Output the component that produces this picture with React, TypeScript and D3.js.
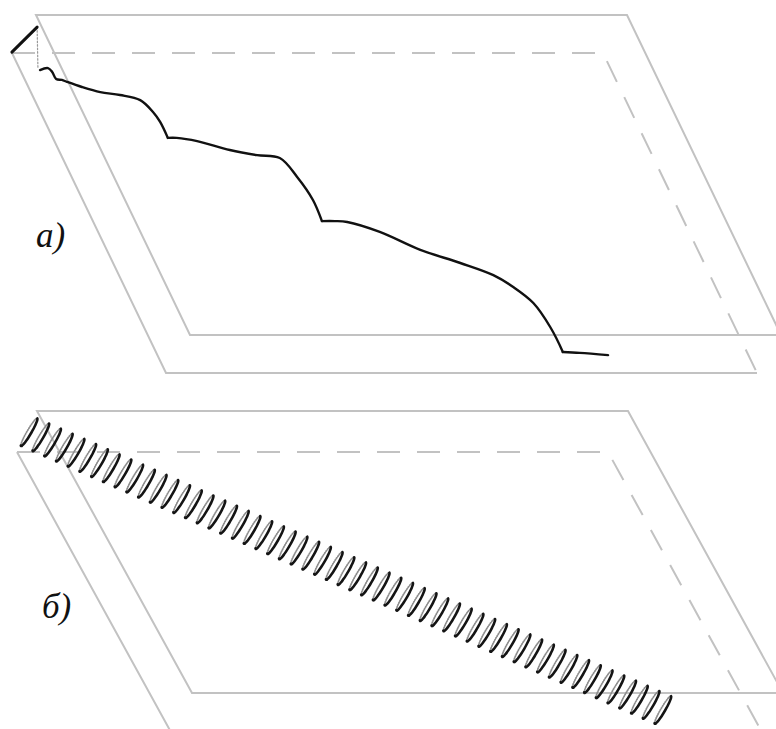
import React from 'react';
import * as d3 from 'd3';

const W = 776;
const H = 729;

// both planes are the unit square u,w in [0,10]; level z=1 is the upper plane, z=0 the lower one
const planeSide = [0, 10];

const curveAU = [-0.38, -0.23, -0.19, -0.18, -0.09, -0.02, 0.19, 0.46, 0.77, 1.07, 1.19, 1.23, 1.23,
  1.38, 1.7, 2.18, 2.6, 2.96, 3.1, 3.18, 3.16, 3.38, 3.58, 4.05, 4.59, 5.16, 5.62, 5.86, 6.07, 6.16, 6.17, 6.45, 6.91];
const curveAW = [1.72, 1.66, 1.78, 2.0, 2.03, 2.09, 2.25, 2.41, 2.5, 2.66, 3.03, 3.34, 3.84,
  3.84, 3.94, 4.22, 4.38, 4.47, 5.06, 5.78, 6.44, 6.44, 6.47, 6.78, 7.34, 7.75, 8.13, 8.5, 9.0, 9.75, 10.53, 10.56, 10.63];
const curveACorners = [12, 20, 30]; // sharp kinks at the foot of each step

// the short thick lead-in and the faint drop below it
const leadU = [-0.71, -0.08];
const leadW = [1.16, 0.38];
const dropU = [-0.08, -0.4];
const dropW = [0.38, 1.66];

// panel b: coil laid along a line on the upper plane
const helixTurns = 54;
const helixU = [-0.33, 7.81];
const helixW = [0.75, 10.6];
const helixRadius = 0.35; // in plane-separation units

const labels = ['а)', 'б)'];

type Panel = { x0: number; y0: number; depth: number; shift: number; zdx: number; zdy: number };

const panelA: Panel = { x0: 36, y0: 15, depth: 320, shift: 154, zdx: -24, zdy: 38 };
const panelB: Panel = { x0: 37, y0: 411, depth: 282, shift: 155, zdx: -20, zdy: 41 };

function makeProjection(p: Panel) {
  const xU = d3.scaleLinear().domain(planeSide).range([p.x0, p.x0 + 591]);
  const xW = d3.scaleLinear().domain(planeSide).range([0, p.shift]);
  const yW = d3.scaleLinear().domain(planeSide).range([p.y0, p.y0 + p.depth]);
  const xZ = d3.scaleLinear().domain([0, 1]).range([p.zdx, 0]);
  const yZ = d3.scaleLinear().domain([0, 1]).range([p.zdy, 0]);
  return (u: number, w: number, z = 1): [number, number] => [xU(u) + xW(w) + xZ(z), yW(w) + yZ(z)];
}

const GRAY = '#c2c2c2';

const Planes: React.FC<{ proj: ReturnType<typeof makeProjection> }> = ({ proj }) => {
  const line = d3.line();
  const [a, b] = planeSide;
  const upper = line([proj(a, a), proj(b, a), proj(b, b), proj(a, b)]) + 'Z';
  const lowerSolid = line([proj(b, b, 0), proj(a, b, 0), proj(a, a, 0)]);
  const lowerDashed = line([proj(a, a, 0), proj(b, a, 0), proj(b, b, 0)]);
  return (
    <g fill="none" stroke={GRAY} strokeWidth={2}>
      <path d={lowerSolid!} />
      <path d={lowerDashed!} strokeDasharray="23 17" />
      <path d={upper} />
    </g>
  );
};

const CurveA: React.FC = () => {
  const proj = makeProjection(panelA);
  const pts = curveAU.map((u, i) => proj(u, curveAW[i]));
  const smooth = d3.line().curve(d3.curveCatmullRom.alpha(0.5));
  const cuts = [0, ...curveACorners, pts.length - 1];
  const pieces = cuts.slice(1).map((end, i) => smooth(pts.slice(cuts[i], end + 1)));
  const straight = d3.line();
  return (
    <g fill="none" strokeLinecap="round" strokeLinejoin="round">
      <path d={straight(dropU.map((u, i) => proj(u, dropW[i])))!} stroke="#999" strokeWidth={1.2} strokeDasharray="1.5 2" />
      <path d={straight(leadU.map((u, i) => proj(u, leadW[i])))!} stroke="#111" strokeWidth={3} />
      {pieces.map((d, i) => (
        <path key={i} d={d!} stroke="#111" strokeWidth={2.4} />
      ))}
    </g>
  );
};

const HelixB: React.FC = () => {
  const proj = makeProjection(panelB);
  const a0 = proj(helixU[0], helixW[0]);
  const a1 = proj(helixU[1], helixW[1]);
  const ax = a1[0] - a0[0];
  const ay = a1[1] - a0[1];
  const len = Math.hypot(ax, ay);
  const ux = ax / len;
  const uy = ay / len;
  const zTop = proj(0, 0, 1);
  const zBot = proj(0, 0, 0);
  // long half-axis of each turn: plane-normal direction, leaning slightly forward
  const r1 = [(zTop[0] - zBot[0]) * helixRadius + ux * 1.2, (zTop[1] - zBot[1]) * helixRadius + uy * 1.2];
  const r1len = Math.hypot(r1[0], r1[1]);
  const thin = 2.2;
  const r2 = [(-r1[1] / r1len) * thin, (r1[0] / r1len) * thin];
  const steps = 18;
  const pitch = len / helixTurns;
  const turns = d3.range(helixTurns + 1).map((k) => {
    const cx = a0[0] + ux * pitch * k;
    const cy = a0[1] + uy * pitch * k;
    const half = (from: number, span: number) =>
      d3.range(steps + 1).map((j) => {
        const th = from + (span * j) / steps;
        return [cx + Math.cos(th) * r1[0] + Math.sin(th) * r2[0], cy + Math.cos(th) * r1[1] + Math.sin(th) * r2[1]] as [number, number];
      });
    const gen = d3.line().curve(d3.curveCatmullRom);
    return { front: gen(half(0.05, Math.PI * 1.05))!, back: gen(half(Math.PI * 1.1, Math.PI * 0.85))! };
  });
  return (
    <g fill="none" strokeLinecap="round">
      {turns.map((t, i) => (
        <path key={'b' + i} d={t.back} stroke="#8c8c8c" strokeWidth={1.7} strokeDasharray="1 1.3" />
      ))}
      {turns.map((t, i) => (
        <path key={'f' + i} d={t.front} stroke="#141414" strokeWidth={2.6} />
      ))}
    </g>
  );
};

export default function App() {
  const projA = makeProjection(panelA);
  const projB = makeProjection(panelB);
  return (
    <svg
      width={W}
      height={H}
      viewBox={`0 0 ${W} ${H}`}
      style={{ position: 'absolute', left: 0, top: 0, background: '#fff' }}
    >
      <Planes proj={projA} />
      <Planes proj={projB} />
      <CurveA />
      <HelixB />
      <g fontFamily="'Liberation Serif', 'DejaVu Serif', serif" fontStyle="italic" fontSize={35} fill="#111">
        <text x={36} y={247}>{labels[0]}</text>
        <text x={42} y={618}>{labels[1]}</text>
      </g>
    </svg>
  );
}
